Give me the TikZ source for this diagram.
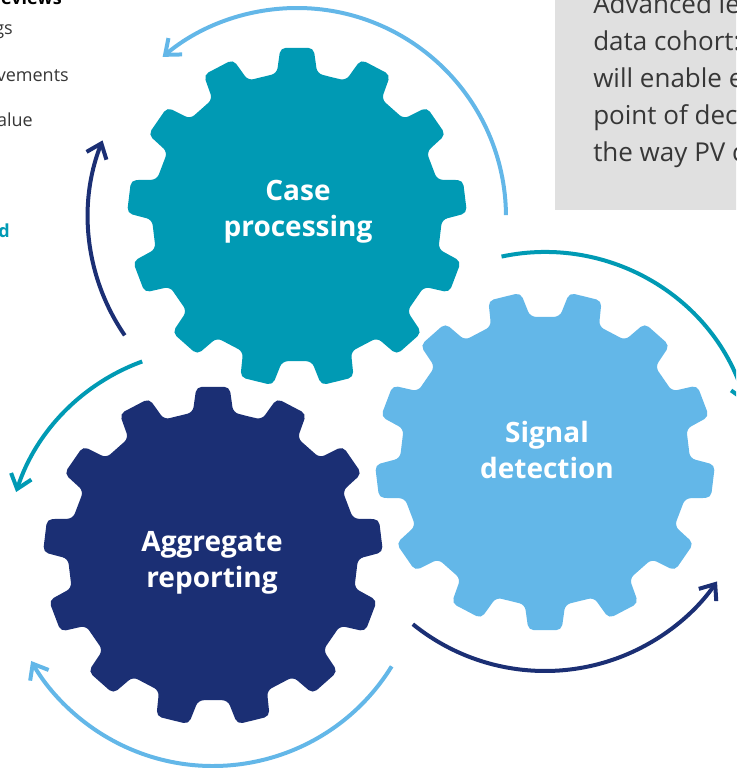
\documentclass[tikz,border=0pt]{standalone}
\usepackage{fontspec}
\setmainfont{Open Sans}
\usetikzlibrary{arrows.meta}
\definecolor{pvteal}{RGB}{0,154,180}
\definecolor{pvlight}{RGB}{99,183,232}
\definecolor{pvnavy}{RGB}{27,47,116}
\definecolor{pvgray}{RGB}{224,224,224}
\definecolor{pvtext}{RGB}{55,55,55}

% gear with 13 teeth: centre, phase, colour
\newcommand{\gear}[3]{%
\fill[#3, rounded corners=4pt, shift={(#1)}] ({#2-180/13}:144)
  \foreach \i in {0,...,12}{ -- ({#2+\i*360/13-8}:145) -- ({#2+\i*360/13-5.6}:170)
    -- ({#2+\i*360/13+5.6}:170) -- ({#2+\i*360/13+8}:145)} -- cycle;}

\begin{document}
\begin{tikzpicture}[x=0.75pt, y=0.75pt,
  cyclearrow/.style={line width=3pt, -{Straight Barb[length=10pt,width=16pt]}},
  gearlabel/.style={text=white, font=\fontsize{21}{27}\selectfont\bfseries, align=center},
  sidetext/.style={anchor=base east, inner sep=0pt, font=\fontsize{13.5}{15}\selectfont, text=pvtext}]
\useasboundingbox (0,0) rectangle (736,768);
\clip (0,0) rectangle (736,768);

\node (rev) [sidetext, font=\fontsize{13.5}{15}\selectfont\bfseries, text=black] at (62,763) {eviews};
\node (gs) [sidetext] at (13,733) {gs};
\node (impr) [sidetext] at (69,686) {vements};
\node (val) [sidetext] at (33,641) {alue};
\node (dd) [sidetext, font=\fontsize{13.5}{15}\selectfont\bfseries, text=pvteal] at (10,530) {d};

\fill[pvgray] (555,558) rectangle (740,772);
\node (note) [anchor=base west, align=left, inner sep=0pt, text=pvtext,
  font=\fontsize{19.5}{27.75}\selectfont] at (593,606)
  {Advanced le\\data cohort:\\will enable e\\point of dec\\the way PV c};

\coordinate (case) at (297,551);
\coordinate (signal) at (545,307);
\coordinate (aggr) at (213,212);
\gear{case}{90}{pvteal}
\gear{signal}{90+180/13}{pvlight}
\gear{aggr}{90}{pvnavy}

\node (caselabel) [gearlabel] at (298,556) {Case\\processing};
\node (signallabel) [gearlabel] at (547,318) {Signal\\detection};
\node (aggrlabel) [gearlabel] at (212,205) {Aggregate\\reporting};

\draw[cyclearrow, pvlight] ([shift={(0.5:209)}]case) arc[start angle=0.5, end angle=130, radius=209];
\draw[cyclearrow, pvnavy] ([shift={(214.5:209)}]case) arc[start angle=214.5, end angle=158.5, radius=209];
\draw[cyclearrow, pvteal] ([shift={(102:209)}]signal) arc[start angle=102, end angle=16, radius=209];
\draw[cyclearrow, pvnavy] ([shift={(231:210)}]signal) arc[start angle=231, end angle=325, radius=210];
\draw[cyclearrow, pvteal] ([shift={(110:207)}]aggr) arc[start angle=110, end angle=162, radius=207];
\draw[cyclearrow, pvlight] ([shift={(-31.7:210)}]aggr) arc[start angle=-31.7, end angle=-150, radius=210];
\end{tikzpicture}
\end{document}
